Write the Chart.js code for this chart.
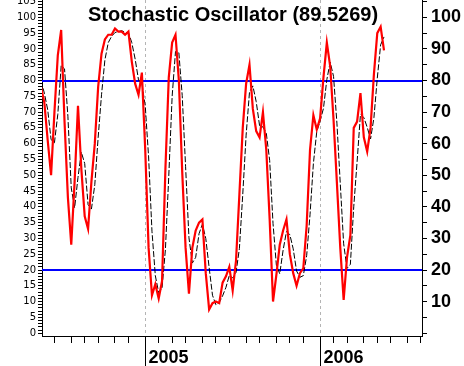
<!DOCTYPE html>
<html>
<head>
<meta charset="utf-8">
<script src="https://cdn.jsdelivr.net/npm/chart.js@4.4.1/dist/chart.umd.min.js"></script>
<style>
  html, body { margin: 0; padding: 0; background: #fff; }
</style>
</head>
<body>
<canvas id="chart" width="464" height="366"></canvas>
<script>
const chartTitle = "Stochastic Oscillator (89.5269)";

// weekly bars, index 0 = week of 2004-06-04
const percentK = [
  78, 73, 61, 50, 70, 88, 96, 67, 43, 28,
  48, 72, 52, 37, 33, 48, 60, 78, 88.5, 93,
  94.5, 94.5, 96.5, 95.5, 95.5, 94.5, 95.5, 86, 79, 75.5,
  82.5, 58, 27, 12, 15.5, 11, 16.5, 52, 81, 92,
  94.5, 80, 51, 27, 12.5, 27, 32.5, 35, 36, 19,
  7.5, 9.5, 10, 9.5, 16, 18, 21, 13.5, 23, 44,
  65, 79, 85, 71, 64, 62, 70, 58, 36, 10,
  18.5, 28, 32.5, 36, 25, 19, 15, 19, 20.5, 34,
  58, 69, 64.5, 68, 81, 92, 84.5, 67.5, 47.5, 27,
  10.5, 24, 31, 65, 67, 76, 62, 57.5, 65, 82,
  95, 97, 89.53,
];
const percentD = [
  80, 76, 70.7, 61.3, 60.3, 69.3, 84.7, 83.7, 68.7, 46,
  39.7, 49.3, 57.3, 53.7, 40.7, 39.3, 47, 62, 75.5, 86.5,
  92, 94, 95.2, 95.5, 95.8, 95.2, 95.2, 92, 86.8, 80.2,
  79, 72, 55.8, 32.3, 18.2, 12.8, 14.3, 26.5, 49.8, 75,
  89.2, 88.8, 75.2, 52.7, 30.2, 22.2, 24, 31.5, 34.5, 30,
  20.8, 12, 9, 9.7, 11.8, 14.5, 18.3, 17.5, 19.2, 26.8,
  44, 62.7, 76.3, 78.3, 73.3, 65.7, 65.3, 63.3, 54.7, 34.7,
  21.5, 18.8, 26.3, 32.2, 31.2, 26.7, 19.7, 17.7, 18.2, 24.5,
  37.5, 53.7, 63.8, 67.2, 71.2, 80.3, 85.8, 81.3, 66.5, 47.3,
  28.3, 20.5, 21.8, 40, 54.3, 69.3, 68.3, 65.2, 61.5, 68.2,
  80.7, 91.3, 93.8,
];

// first weekly bar of each month, Jul 2004 .. Aug 2006
const monthTicks = [4, 9, 13, 17, 22, 26, 31, 35, 39, 43, 48, 52, 56, 61, 65, 70, 74, 78, 83, 87, 91, 96, 100, 104, 109, 113];
const yearTicks = [31, 83];
const yearLabels = ["2005", "2006"];
const levels = [80, 20];

const leftTicks = [];
for (let v = 0; v <= 105; v += 1) leftTicks.push(v);
const rightTicks = [];
for (let v = 0; v <= 105; v += 5) rightTicks.push(v);

function noPadding(scale) {
  scale.paddingTop = 0;
  scale.paddingBottom = 0;
  scale.paddingLeft = 0;
  scale.paddingRight = 0;
}

const overlay = {
  id: "overlay",
  beforeDatasetsDraw(chart) {
    const { ctx, chartArea: area, scales: { x, y } } = chart;
    ctx.save();
    ctx.strokeStyle = "#b4b4b4";
    ctx.lineWidth = 1;
    ctx.setLineDash([3, 3]);
    yearTicks.forEach((w) => {
      const px = Math.round(x.getPixelForValue(w)) + 0.5;
      ctx.beginPath();
      ctx.moveTo(px, area.top);
      ctx.lineTo(px, area.bottom);
      ctx.stroke();
    });
    ctx.setLineDash([]);
    ctx.strokeStyle = "#0000ff";
    ctx.lineWidth = 2;
    levels.forEach((v) => {
      const py = Math.round(y.getPixelForValue(v));
      ctx.beginPath();
      ctx.moveTo(area.left, py);
      ctx.lineTo(area.right, py);
      ctx.stroke();
    });
    ctx.restore();
  },
  afterDraw(chart) {
    const { ctx, chartArea: area, scales: { x } } = chart;
    ctx.save();
    ctx.strokeStyle = "#000";
    ctx.lineWidth = 1;
    ctx.fillStyle = "#000";
    ctx.font = "bold 18px 'Liberation Sans', Arial, sans-serif";
    ctx.textBaseline = "alphabetic";
    ctx.textAlign = "left";
    yearTicks.forEach((w, i) => {
      const px = Math.round(x.getPixelForValue(w)) + 0.5;
      ctx.beginPath();
      ctx.moveTo(px, area.bottom);
      ctx.lineTo(px, chart.height);
      ctx.stroke();
      ctx.fillText(yearLabels[i], px + 3, 363);
    });
    ctx.font = "bold 20px 'Liberation Sans', Arial, sans-serif";
    ctx.textAlign = "center";
    ctx.fillText(chartTitle, (area.left + area.right) / 2 + 1, 21);
    ctx.restore();
  },
};

new Chart(document.getElementById("chart"), {
  type: "line",
  data: {
    datasets: [
      {
        label: "%K",
        data: percentK.map((v, i) => ({ x: i, y: v })),
        borderColor: "#ff0000",
        borderWidth: 2.2,
        pointRadius: 0,
        tension: 0,
        yAxisID: "y",
        order: 1,
      },
      {
        label: "%D",
        data: percentD.map((v, i) => ({ x: i, y: v })),
        borderColor: "#000000",
        borderWidth: 1,
        borderDash: [6, 2],
        pointRadius: 0,
        tension: 0,
        yAxisID: "y",
        order: 2,
      },
    ],
  },
  options: {
    responsive: false,
    animation: false,
    devicePixelRatio: 1,
    layout: { padding: 0 },
    plugins: {
      legend: { display: false },
      title: { display: false },
      tooltip: { enabled: false },
    },
    scales: {
      x: {
        type: "linear",
        min: 0.3,
        max: 113.3,
        afterBuildTicks: (s) => { s.ticks = monthTicks.map((v) => ({ value: v })); },
        afterFit: (s) => { s.height = 30; noPadding(s); },
        grid: { drawOnChartArea: false, tickLength: 7, tickColor: "#000" },
        border: { color: "#000", width: 1 },
        ticks: { autoSkip: false, maxRotation: 0, callback: () => "" },
      },
      y: {
        position: "left",
        min: -0.9,
        max: 105.5,
        afterBuildTicks: (s) => { s.ticks = leftTicks.map((v) => ({ value: v })); },
        afterFit: (s) => { s.width = 42; noPadding(s); },
        grid: { drawOnChartArea: false, tickLength: 4, tickColor: "#000" },
        border: { color: "#000", width: 1 },
        ticks: {
          autoSkip: false,
          padding: 2,
          color: "#000",
          font: { family: "'DejaVu Sans', sans-serif", size: 10 },
          callback: (v) => (v % 5 === 0 ? String(v) : ""),
        },
      },
      y2: {
        position: "right",
        min: -0.9,
        max: 105.5,
        afterBuildTicks: (s) => { s.ticks = rightTicks.map((v) => ({ value: v })); },
        afterFit: (s) => { s.width = 42; noPadding(s); },
        grid: { drawOnChartArea: false, tickLength: 5, tickColor: "#000" },
        border: { color: "#000", width: 1 },
        ticks: {
          autoSkip: false,
          padding: 4,
          color: "#000",
          font: { family: "'Liberation Sans', Arial, sans-serif", size: 18, weight: "bold" },
          callback: (v) => (v % 10 === 0 && v > 0 ? String(v) : ""),
        },
      },
    },
  },
  plugins: [overlay],
});
</script>
</body>
</html>
